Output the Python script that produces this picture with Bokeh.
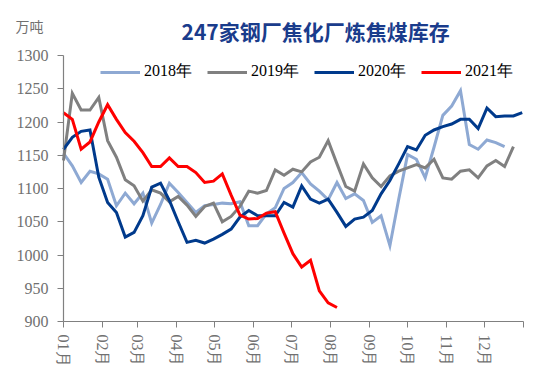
from bokeh.plotting import figure
from bokeh.models import Range1d, FixedTicker, Legend, LegendItem, Label
from bokeh.embed import file_html
from bokeh.resources import INLINE

# month tick positions (day of year) and labels
month_days = [0, 31, 59, 90, 120, 151, 181, 212, 243, 273, 304, 334, 365]
month_labels = ["01月", "02月", "03月", "04月", "05月", "06月", "07月", "08月",
                "09月", "10月", "11月", "12月", ""]

y_ticks = [900, 950, 1000, 1050, 1100, 1150, 1200, 1250, 1300]

# weekly inventories (万吨)
s2018 = [1153, 1134, 1109, 1126, 1122, 1114, 1074, 1093, 1077, 1093, 1048, 1076,
         1108, 1094, 1079, 1064, 1074, 1076, 1078, 1077, 1080, 1044, 1044, 1062,
         1071, 1100, 1109, 1124, 1107, 1096, 1083, 1109, 1085, 1092, 1082, 1049,
         1059, 1014, 1084, 1151, 1144, 1116, 1162, 1210, 1224, 1247, 1166, 1159,
         1173, 1169, 1163]
s2019 = [1142, 1243, 1218, 1218, 1237, 1172, 1147, 1113, 1104, 1081, 1098, 1093,
         1080, 1088, 1075, 1058, 1073, 1078, 1050, 1058, 1073, 1096, 1093, 1097,
         1128, 1120, 1129, 1125, 1140, 1147, 1172, 1137, 1103, 1096, 1137, 1116,
         1103, 1119, 1126, 1131, 1136, 1131, 1144, 1116, 1114, 1126, 1128, 1116,
         1134, 1142, 1133, 1163]
s2020 = [1159, 1177, 1186, 1188, 1117, 1079, 1064, 1027, 1034, 1059, 1102, 1108,
         1082, 1050, 1019, 1022, 1018, 1024, 1031, 1039, 1057, 1067, 1059, 1059,
         1059, 1079, 1072, 1104, 1084, 1078, 1084, 1064, 1043, 1054, 1057, 1067,
         1092, 1112, 1137, 1163, 1158, 1180, 1188, 1193, 1197, 1204, 1204, 1190,
         1221, 1208, 1209, 1209, 1214]
s2021 = [1214, 1204, 1159, 1170, 1200, 1226, 1204, 1184, 1171, 1154, 1133, 1133,
         1146, 1133, 1133, 1124, 1109, 1111, 1122, 1090, 1060, 1054, 1055, 1063,
         1065, 1033, 1002, 982, 992, 946, 928, 921]

series_names = ["2018年", "2019年", "2020年", "2021年"]
series_data = [s2018, s2019, s2020, s2021]
series_colors = ["#8EA9D3", "#808080", "#003A8C", "#FF0000"]

SERIF = "Liberation Serif"

# canvas layout: plot area 460x266 px inside a 527x365 canvas
W, H = 527, 365
PL, PR, PT, PB = 63, 4, 55, 44
x0, x1 = 0, 365
ymin, ymax = 900, 1300
kx = (W - PL - PR) / (x1 - x0)
ky = (H - PT - PB) / (ymax - ymin)

p = figure(width=W, height=H, output_backend="svg", toolbar_location=None,
           min_border=0, min_border_left=0, min_border_right=0,
           min_border_top=0, min_border_bottom=0,
           x_range=Range1d(x0 - PL / kx, x1 + PR / kx),
           y_range=Range1d(ymin - PB / ky, ymax + PT / ky))
p.outline_line_color = None
p.xgrid.visible = False
p.ygrid.visible = False
p.background_fill_color = "white"
p.border_fill_color = "white"

axis_color = "#808080"
label_color = "#707070"
for ax in (p.xaxis[0], p.yaxis[0]):
    ax.axis_line_color = axis_color
    ax.axis_line_width = 1.2
    ax.major_tick_line_color = axis_color
    ax.major_tick_in = 0
    ax.major_tick_out = 6
    ax.minor_tick_line_color = None
    ax.major_label_text_font = SERIF
    ax.major_label_text_font_size = "16px"
    ax.major_label_text_color = label_color

p.yaxis[0].ticker = FixedTicker(ticks=y_ticks)
p.yaxis[0].major_label_standoff = 9
p.yaxis[0].fixed_location = x0
p.yaxis[0].bounds = (ymin, ymax)
p.xaxis[0].ticker = FixedTicker(ticks=month_days)
p.xaxis[0].major_label_overrides = {d: l for d, l in zip(month_days, month_labels)}
p.xaxis[0].major_label_orientation = "vertical"
p.xaxis[0].major_label_standoff = 7
p.xaxis[0].fixed_location = ymin
p.xaxis[0].bounds = (x0, x1)

items = []
for name, data, color in zip(series_names, series_data, series_colors):
    xs = [7 * i for i in range(len(data))]
    r = p.line(xs, data, line_color=color, line_width=3, line_join="miter")
    items.append(LegendItem(label=name, renderers=[r]))

legend = Legend(items=items, orientation="horizontal", location=(100, 283),
                glyph_width=40, glyph_height=20, label_standoff=4, spacing=15,
                padding=0, margin=0, border_line_color=None,
                background_fill_alpha=0,
                label_text_font=SERIF, label_text_font_size="16px",
                label_text_color="black")
p.add_layout(legend, "center")

p.add_layout(Label(x=181, y=H - 30, x_units="screen", y_units="screen",
                   text="247家钢厂焦化厂炼焦煤库存", text_align="left",
                   text_baseline="middle", text_font="Noto Sans CJK SC",
                   text_font_style="bold", text_font_size="21px",
                   text_color="#1A3C8C"))
p.add_layout(Label(x=15, y=H - 25, x_units="screen", y_units="screen",
                   text="万吨", text_align="left", text_baseline="middle",
                   text_font="Noto Sans CJK SC", text_font_size="14px",
                   text_color="#707070"))

open("out.html", "w").write(file_html(p, INLINE))
